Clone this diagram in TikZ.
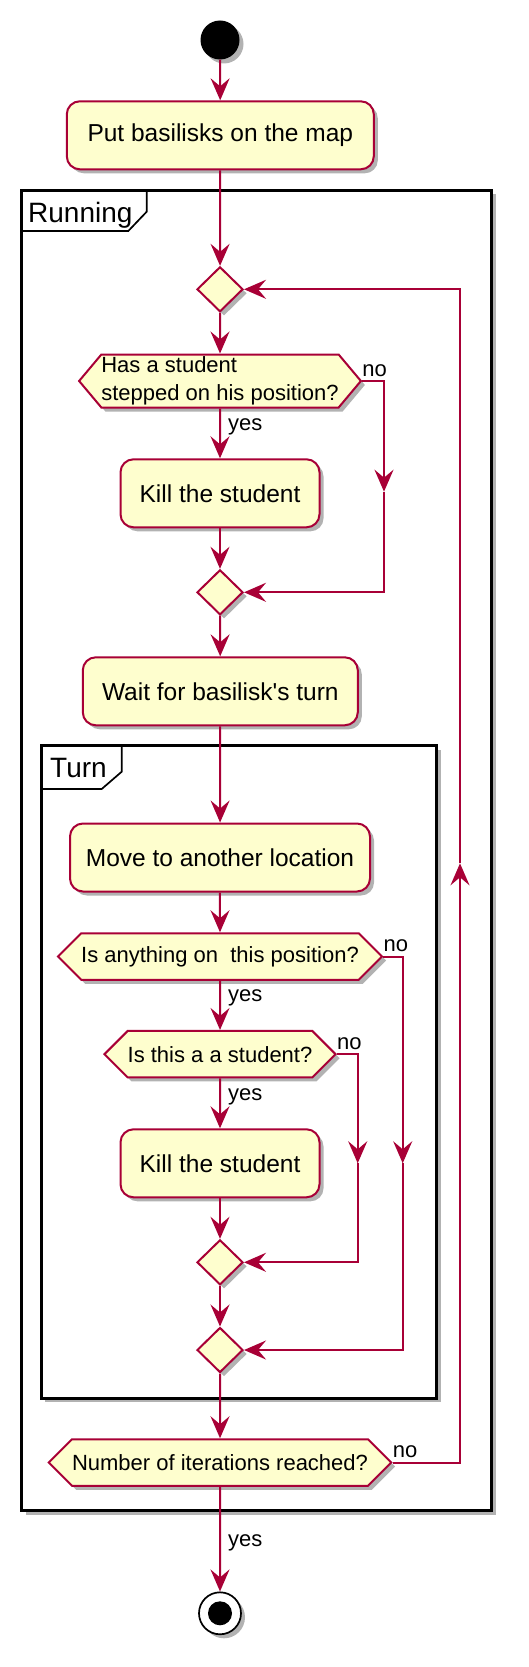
\documentclass[tikz,border=0pt]{standalone}
\usepackage{fontspec}
\setmainfont{Liberation Sans}
\usetikzlibrary{arrows.meta,shapes.geometric,shapes.symbols,shadows}
\definecolor{umlred}{HTML}{A80036}
\definecolor{umlfill}{HTML}{FEFECE}
\tikzset{
  umlshadow/.style={drop shadow={shadow xshift=4pt,shadow yshift=-4pt,opacity=.3,fill=black}},
  activity/.style={draw=umlred,fill=umlfill,line width=2pt,rounded corners=13pt,
    inner sep=0pt,minimum height=68pt,font=\fontsize{24.5}{28}\selectfont,umlshadow},
  decision/.style={draw=umlred,fill=umlfill,line width=2pt,shape=signal,
    signal to=east and west,signal pointer angle=90,inner sep=0pt,
    font=\fontsize{22}{27.5}\selectfont,umlshadow},
  merge/.style={draw=umlred,fill=umlfill,line width=2pt,diamond,inner sep=0pt,
    minimum width=46pt,minimum height=45pt,umlshadow},
  flow/.style={draw=umlred,line width=2pt,-{Stealth[length=22pt,width=19pt,inset=8pt]}},
  lbl/.style={font=\fontsize{22}{26}\selectfont,inner sep=0pt,anchor=base west},
  frame/.style={draw=black,line width=3pt,fill=white,umlshadow},
  tab/.style={draw=black,line width=1.7pt},
  framelbl/.style={font=\fontsize{28}{32}\selectfont,inner sep=0pt,anchor=base west},
}
\begin{document}
\begin{tikzpicture}[x=1pt,y=-1pt]
  \fill[white] (0,0) rectangle (528,1667);
  \useasboundingbox (0,0) rectangle (528,1667);
  % partitions
  \draw[frame] (21.7,190) rectangle (491.7,1510.7);
  \draw[tab] (21.7,231) -- (128.3,231) -- (146.7,211.7) -- (146.7,190);
  \node[framelbl] (running) at (28,222) {Running};
  \draw[frame] (41,745.7) rectangle (436.7,1398.3);
  \draw[tab] (41,789) -- (101.7,789) -- (121.7,771.7) -- (121.7,745.7);
  \node[framelbl] (turn) at (50,777) {Turn};

  % activities
  \node[circle,fill=black,minimum size=39pt,inner sep=0pt,umlshadow] (start) at (220,40) {};
  \node[activity,minimum width=307pt] (put) at (220.3,135.3) {Put basilisks on the map};
  \node[merge] (m1) at (220,289.3) {};
  \node[decision,signal pointer angle=100,minimum width=276pt,minimum height=53pt,align=left] (h1) at (220,381)
    {Has a student\\stepped on his position?};
  \node[activity,minimum width=199pt] (kill1) at (220,493.3) {Kill the student};
  \node[merge] (m2) at (220,592.3) {};
  \node[activity,minimum width=275pt] (wait) at (220.3,691.3) {Wait for basilisk\textquotesingle s turn};
  \node[activity,minimum width=300pt] (move) at (220,857.5) {Move to another location};
  \node[decision,minimum width=315pt,minimum height=46.5pt] (h2) at (220,956.5) {Is anything on\ \ this position?};
  \node[decision,minimum width=225pt,minimum height=46.5pt] (h3) at (220,1054.2) {Is this a a student?};
  \node[activity,minimum width=199pt] (kill2) at (220,1163.3) {Kill the student};
  \node[merge] (m3) at (220,1262.3) {};
  \node[merge] (m4) at (220,1350) {};
  \node[decision,minimum width=335pt,minimum height=46.5pt] (h4) at (220,1462.5) {Number of iterations reached?};
  \node[circle,draw=black,line width=1.7pt,fill=white,minimum size=42pt,inner sep=0pt,umlshadow,
    path picture={\fill[black] (path picture bounding box.center) circle (12pt);}] (stop) at (220,1613.3) {};

  % bend points of the "no" branches
  \coordinate (no1) at (384,491.7);
  \coordinate (no2) at (402.7,1163.3);
  \coordinate (no3) at (357.7,1163.3);
  \coordinate (back) at (460,863.3);

  % flows
  \draw[flow] (start) -- (put);
  \draw[flow] (put) -- (m1);
  \draw[flow] (m1) -- (h1);
  \draw[flow] (h1) -- (kill1);
  \draw[flow] (h1.east) -| (no1);
  \draw[flow] (no1) |- (m2.east);
  \draw[flow] (kill1) -- (m2);
  \draw[flow] (m2) -- (wait);
  \draw[flow] (wait) -- (move);
  \draw[flow] (move) -- (h2);
  \draw[flow] (h2) -- (h3);
  \draw[flow] (h2.east) -| (no2);
  \draw[flow] (no2) |- (m4.east);
  \draw[flow] (h3) -- (kill2);
  \draw[flow] (h3.east) -| (no3);
  \draw[flow] (no3) |- (m3.east);
  \draw[flow] (kill2) -- (m3);
  \draw[flow] (m3) -- (m4);
  \draw[flow] (m4) -- (h4);
  \draw[flow] (h4.east) -| (back);
  \draw[flow] (back) |- (m1.east);
  \draw[flow] (h4) -- (stop);

  % branch labels
  \node[lbl] (no1lbl) at ([yshift=5pt]h1.east) {no};
  \node[lbl] (yes1lbl) at ([xshift=8pt,yshift=-21.7pt]h1.south) {yes};
  \node[lbl] (no2lbl) at ([yshift=5pt]h2.east) {no};
  \node[lbl] (yes2lbl) at ([xshift=8pt,yshift=-21pt]h2.south) {yes};
  \node[lbl] (no3lbl) at ([yshift=5pt]h3.east) {no};
  \node[lbl] (yes3lbl) at ([xshift=8pt,yshift=-21.7pt]h3.south) {yes};
  \node[lbl] (no4lbl) at ([yshift=5pt]h4.east) {no};
  \node[lbl] (yes4lbl) at ([xshift=8pt,yshift=-60pt]h4.south) {yes};
\end{tikzpicture}
\end{document}
